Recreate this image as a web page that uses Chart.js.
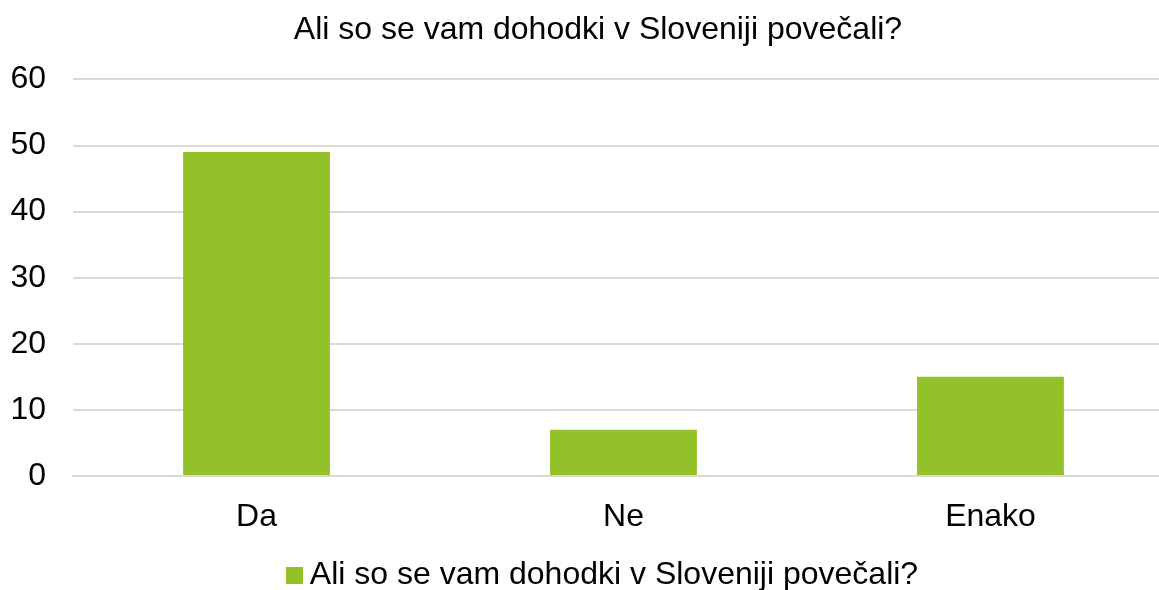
<!DOCTYPE html>
<html><head><meta charset="utf-8">
<script src="https://cdn.jsdelivr.net/npm/chart.js@4"></script>
<style>html,body{margin:0;padding:0;background:#fff;overflow:hidden;width:1159px;height:590px}#c{display:block}</style>
</head><body>
<canvas id="c" width="1186" height="590"></canvas>
<script>
const categories = ["Da", "Ne", "Enako"];
const seriesName = "Ali so se vam dohodki v Sloveniji povečali?";
const values = [49, 7, 15];
const titleText = "Ali so se vam dohodki v Sloveniji povečali?";
const yTicks = [0, 10, 20, 30, 40, 50, 60];
const font = "'Liberation Sans', Arial, sans-serif";
const barColor = '#92C12A';

// legend marker: 17px square placed at the right of a 34px transparent image
const marker = document.createElement('canvas');
marker.width = 34; marker.height = 17;
const mctx = marker.getContext('2d');
mctx.fillStyle = barColor;
mctx.fillRect(17, 0, 17, 17);

new Chart(document.getElementById('c'), {
  type: 'bar',
  data: {
    labels: categories,
    datasets: [{
      label: seriesName,
      data: values,
      backgroundColor: barColor,
      borderWidth: 0,
      barPercentage: 0.4,
      categoryPercentage: 1.0
    }]
  },
  options: {
    responsive: false,
    animation: false,
    layout: { padding: { left: 10, right: 0, top: 11, bottom: -11 } },
    plugins: {
      title: { display: true, text: titleText, color: '#000', font: { family: font, size: 32, weight: 'normal', lineHeight: 1.2 }, padding: { top: 0, bottom: 30 } },
      legend: { position: 'bottom', labels: { color: '#000', font: { family: font, size: 32 }, usePointStyle: true, pointStyle: marker, pointStyleWidth: 16, boxHeight: 17, padding: 1 } },
      tooltip: { enabled: false }
    },
    scales: {
      x: {
        afterFit: (s) => { s.paddingRight = 12; s.paddingLeft = 0; },
        grid: { display: false, drawTicks: false },
        border: { display: true, color: '#d9d9d9', width: 2 },
        ticks: { color: '#000', font: { family: font, size: 32, lineHeight: 1.375 }, padding: 19 }
      },
      y: {
        min: yTicks[0], max: yTicks[yTicks.length - 1],
        afterBuildTicks: (s) => { s.ticks = yTicks.map(v => ({ value: v })); },
        afterFit: (s) => { s.width = 63; },
        grid: { color: '#d9d9d9', lineWidth: 2, drawTicks: false },
        border: { display: false },
        ticks: { color: '#000', font: { family: font, size: 32 }, padding: 27 }
      }
    }
  }
});
</script>
</body></html>
